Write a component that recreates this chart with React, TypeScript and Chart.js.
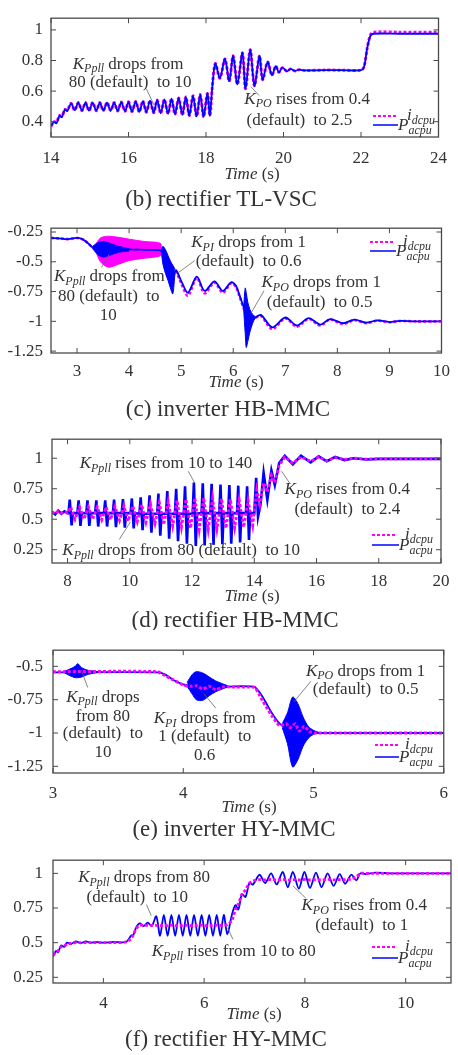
import React, { useEffect, useRef } from "react";
import { Chart, registerables } from "chart.js";

Chart.register(...registerables);

const FONT = '"Liberation Serif", "Times New Roman", Times, serif';
const INK = "#333333";
const FRAME = "#4a4a4a";
const MAGENTA = "#ff00ff";
const BLUE = "#0000ff";
Chart.defaults.font.family = FONT;

// ---------------- (b) rectifier TL-VSC ----------------
const bXTicks = [14, 16, 18, 20, 22, 24];
const bYTicks = [0.4, 0.6, 0.8, 1];
const bTime = [14.0, 14.08, 14.14, 14.22, 14.28, 14.36, 14.42,
  14.52, 14.61, 14.705, 14.8, 14.89, 14.98, 15.075, 15.17, 15.26, 15.35, 15.445, 15.54, 15.63, 15.72, 15.815, 15.91,
  16.0, 16.09, 16.185, 16.28, 16.37, 16.46, 16.555, 16.65, 16.74, 16.83, 16.925, 17.02, 17.11, 17.2, 17.295, 17.39,
  17.48, 17.57, 17.665, 17.76, 17.85, 17.94, 18.035, 18.1,
  18.16, 18.24, 18.36, 18.49, 18.6, 18.7, 18.81, 18.94, 19.02, 19.14, 19.25, 19.38, 19.46, 19.59, 19.7, 19.8, 19.88,
  19.97, 20.09, 20.18, 20.3, 20.4, 20.55, 21.0, 21.5, 22.0, 22.08, 22.16, 22.24, 22.32, 23.0, 24.0];
const bPac = [0.37, 0.4, 0.39, 0.44, 0.43, 0.48, 0.47,
  0.52, 0.475, 0.525, 0.472, 0.525, 0.472, 0.525, 0.472, 0.525, 0.472, 0.525, 0.472, 0.525, 0.47, 0.528, 0.468,
  0.53, 0.466, 0.532, 0.464, 0.535, 0.462, 0.538, 0.458, 0.542, 0.455, 0.545, 0.452, 0.55, 0.448, 0.555, 0.444,
  0.562, 0.44, 0.57, 0.435, 0.578, 0.432, 0.585, 0.44,
  0.62, 0.78, 0.685, 0.81, 0.665, 0.83, 0.645, 0.85, 0.616, 0.87, 0.635, 0.83, 0.675, 0.79, 0.704, 0.763, 0.723,
  0.753, 0.729, 0.745, 0.732, 0.74, 0.735, 0.737, 0.737, 0.737, 0.76, 0.88, 0.96, 0.975, 0.975, 0.975];
const bIdc = [0.37, 0.4, 0.395, 0.44, 0.435, 0.48, 0.475,
  0.52, 0.475, 0.525, 0.472, 0.525, 0.472, 0.525, 0.472, 0.525, 0.472, 0.525, 0.472, 0.525, 0.47, 0.528, 0.468,
  0.53, 0.466, 0.532, 0.464, 0.535, 0.462, 0.538, 0.458, 0.542, 0.455, 0.545, 0.452, 0.55, 0.448, 0.555, 0.444,
  0.562, 0.44, 0.57, 0.435, 0.578, 0.432, 0.585, 0.44,
  0.62, 0.78, 0.685, 0.81, 0.665, 0.83, 0.645, 0.85, 0.616, 0.87, 0.635, 0.83, 0.675, 0.79, 0.704, 0.763, 0.723,
  0.753, 0.729, 0.745, 0.732, 0.74, 0.735, 0.737, 0.737, 0.737, 0.76, 0.88, 0.965, 0.985, 0.985, 0.985];
const bNotes = [
  { s: "K_{Ppll} drops from", x: 15.99, y: 0.776 },
  { s: "80 (default)  to 10", x: 16.04, y: 0.655 },
  { s: "K_{PO} rises from 0.4", x: 20.61, y: 0.547 },
  { s: "(default)  to 2.5", x: 20.41, y: 0.41 },
];
const bLeaders = [[16.46, 0.616, 16.66, 0.508], [19.37, 0.571, 19.16, 0.629]];

// ---------------- (c) inverter HB-MMC ----------------
const cXTicks = [3, 4, 5, 6, 7, 8, 9, 10];
const cYTicks = [-1.25, -1, -0.75, -0.5, -0.25];
const cTime = [2.5, 2.7, 2.8, 3.0, 3.1, 3.2, 3.3, 3.4, 3.6, 3.8, 4.0, 4.3, 4.6, 4.65, 4.75, 4.85, 4.9, 5.0, 5.13,
  5.3, 5.45, 5.64, 5.8, 5.96, 6.05, 6.12, 6.2, 6.3, 6.42, 6.53, 6.75, 7.0, 7.22, 7.45, 7.67, 7.86, 8.11, 8.33,
  8.55, 8.77, 9.0, 9.2, 9.5, 10.0];
const cPac = [-0.3, -0.305, -0.31, -0.3, -0.31, -0.34, -0.38, -0.4, -0.4, -0.395, -0.395, -0.4, -0.405, -0.43,
  -0.52, -0.62, -0.57, -0.66, -0.76, -0.625, -0.745, -0.665, -0.745, -0.672, -0.7, -0.78, -0.88, -1.0, -0.97,
  -0.946, -1.05, -0.968, -1.035, -0.973, -1.027, -0.981, -1.016, -0.986, -1.011, -0.992, -1.006, -0.996, -1.0, -1.0];
const cIdc = [-0.3, -0.305, -0.31, -0.3, -0.31, -0.34, -0.38, -0.41, -0.41, -0.405, -0.4, -0.4, -0.4, -0.42,
  -0.48, -0.56, -0.58, -0.68, -0.785, -0.635, -0.765, -0.675, -0.76, -0.68, -0.71, -0.79, -0.89, -0.98, -0.97,
  -0.955, -1.065, -0.975, -1.045, -0.98, -1.035, -0.985, -1.022, -0.99, -1.015, -0.994, -1.008, -0.997, -1.0, -1.0];
const cIdcBandT = [3.35, 3.45, 3.6, 3.8, 4.0, 4.3, 4.6, 4.62];
const cIdcBandHi = [-0.36, -0.3, -0.285, -0.295, -0.31, -0.33, -0.345, -0.4];
const cIdcBandLo = [-0.4, -0.5, -0.545, -0.52, -0.49, -0.47, -0.45, -0.41];
const cPacBand1T = [3.3, 3.4, 3.5, 3.6, 3.8, 4.0];
const cPacBand1Hi = [-0.37, -0.34, -0.33, -0.34, -0.37, -0.39];
const cPacBand1Lo = [-0.39, -0.44, -0.46, -0.45, -0.42, -0.41];
const cPacBand2T = [4.62, 4.65, 4.7, 4.75, 4.8, 4.84, 4.88];
const cPacBand2Hi = [-0.4, -0.37, -0.4, -0.45, -0.5, -0.53, -0.56];
const cPacBand2Lo = [-0.42, -0.52, -0.6, -0.66, -0.73, -0.77, -0.6];
const cPacBand3T = [6.2, 6.23, 6.25, 6.28, 6.32, 6.37, 6.42];
const cPacBand3Hi = [-0.88, -0.72, -0.76, -0.84, -0.9, -0.94, -0.96];
const cPacBand3Lo = [-0.9, -1.1, -1.22, -1.17, -1.09, -1.02, -0.97];
const cNotes = [
  { s: "K_{Ppll} drops from", x: 3.62, y: -0.623 },
  { s: "80 (default)  to", x: 3.61, y: -0.79 },
  { s: "10", x: 3.6, y: -0.952 },
  { s: "K_{PI} drops from 1", x: 6.295, y: -0.341 },
  { s: "(default)  to 0.6", x: 6.295, y: -0.502 },
  { s: "K_{PO} drops from 1", x: 7.69, y: -0.677 },
  { s: "(default)  to 0.5", x: 7.66, y: -0.839 },
];
const cLeaders = [[3.47, -0.548, 3.62, -0.435], [5.26, -0.49, 4.95, -0.59], [6.59, -0.744, 6.34, -0.933]];

// ---------------- (d) rectifier HB-MMC ----------------
const dXTicks = [8, 10, 12, 14, 16, 18, 20];
const dYTicks = [0.25, 0.5, 0.75, 1];
const dPacTime = [7.5, 7.6, 7.7, 7.8, 7.9, 8.0,
  8.03, 8.07, 8.13, 8.17, 8.315, 8.355, 8.415, 8.455, 8.6, 8.64, 8.7, 8.74, 8.885, 8.925, 8.985, 9.025,
  9.17, 9.21, 9.27, 9.31, 9.455, 9.495, 9.555, 9.595, 9.74, 9.78, 9.84, 9.88, 10.025, 10.065, 10.125, 10.165,
  10.31, 10.35, 10.41, 10.45, 10.595, 10.635, 10.695, 10.735, 10.88, 10.92, 10.98, 11.02, 11.165, 11.205, 11.265, 11.305,
  11.45, 11.49, 11.55, 11.59, 11.735, 11.775, 11.835, 11.875, 12.02, 12.06, 12.12, 12.16, 12.305, 12.345, 12.405, 12.445,
  12.59, 12.63, 12.69, 12.73, 12.875, 12.915, 12.975, 13.015, 13.16, 13.2, 13.26, 13.3, 13.445, 13.485, 13.545, 13.585,
  13.73, 13.77, 13.83, 13.87,
  14.0, 14.06, 14.12, 14.2, 14.3, 14.42, 14.55, 14.66, 14.8, 14.98, 15.24, 15.5, 15.81, 16.07, 16.33, 16.6, 16.9,
  17.2, 17.6, 18.0, 20.0];
const dPac = [0.56, 0.54, 0.57, 0.545, 0.565, 0.55,
  0.55, 0.66, 0.45, 0.55, 0.55, 0.655, 0.445, 0.55, 0.55, 0.655, 0.445, 0.55, 0.55, 0.655, 0.44, 0.55,
  0.55, 0.655, 0.44, 0.55, 0.55, 0.66, 0.435, 0.55, 0.55, 0.665, 0.43, 0.55, 0.55, 0.67, 0.425, 0.55,
  0.545, 0.68, 0.41, 0.545, 0.545, 0.695, 0.39, 0.545, 0.545, 0.71, 0.365, 0.545, 0.545, 0.73, 0.34, 0.545,
  0.545, 0.75, 0.32, 0.545, 0.545, 0.77, 0.3, 0.545, 0.545, 0.8, 0.28, 0.545, 0.55, 0.795, 0.285, 0.55,
  0.55, 0.79, 0.29, 0.55, 0.55, 0.785, 0.295, 0.55, 0.55, 0.78, 0.3, 0.55, 0.55, 0.775, 0.31, 0.55,
  0.55, 0.77, 0.33, 0.55,
  0.55, 0.84, 0.52, 0.62, 0.88, 0.66, 0.9, 0.78, 0.96, 1.02, 0.95, 1.02, 0.966, 1.015, 0.975, 1.01, 0.985,
  1.0, 0.99, 0.995, 0.995];
const dIdcTime = [7.5, 7.6, 7.7, 7.8, 7.9, 8.0,
  8.1, 8.24, 8.385, 8.53, 8.67, 8.81, 8.955, 9.1, 9.24, 9.38, 9.525, 9.67, 9.81, 9.95, 10.095, 10.24, 10.38, 10.52,
  10.665, 10.81, 10.95, 11.09, 11.235, 11.38, 11.52, 11.66, 11.805, 11.95, 12.09, 12.23, 12.375, 12.52, 12.66,
  12.8, 12.945, 13.09, 13.23, 13.37, 13.515, 13.66, 13.8, 13.95,
  14.08, 14.18, 14.3, 14.42, 14.55, 14.66, 14.8, 14.98, 15.24, 15.5, 15.81, 16.07, 16.33, 16.6, 16.9, 17.2, 17.6,
  18.0, 20.0];
const dIdc = [0.56, 0.545, 0.565, 0.55, 0.56, 0.55,
  0.6, 0.5, 0.6, 0.5, 0.6, 0.5, 0.6, 0.495, 0.6, 0.495, 0.605, 0.49, 0.61, 0.485, 0.61, 0.48, 0.62, 0.475, 0.625,
  0.465, 0.635, 0.455, 0.645, 0.445, 0.655, 0.435, 0.665, 0.425, 0.675, 0.415, 0.675, 0.415, 0.67, 0.42, 0.67,
  0.425, 0.665, 0.43, 0.66, 0.435, 0.655, 0.45,
  0.74, 0.62, 0.8, 0.72, 0.86, 0.8, 0.94, 1.01, 0.96, 1.01, 0.975, 1.01, 0.98, 1.005, 0.99, 1.0, 0.993, 0.995, 0.995];
const dNotes = [
  { s: "K_{Ppll} rises from 10 to 140", x: 11.16, y: 0.958 },
  { s: "K_{Ppll} drops from 80 (default)  to 10", x: 11.65, y: 0.242 },
  { s: "K_{PO} rises from 0.4", x: 16.99, y: 0.742 },
  { s: "(default)  to 2.4", x: 16.99, y: 0.576 },
];
const dLeaders = [[11.88, 0.893, 12.09, 0.795], [9.66, 0.334, 10.02, 0.477], [15.14, 0.795, 14.88, 0.893]];

// ---------------- (e) inverter HY-MMC ----------------
const eXTicks = [3, 4, 5, 6];
const eYTicks = [-1.25, -1, -0.75, -0.5];
const eTime = [3.0, 3.8, 3.86, 3.92, 4.0, 4.05, 4.1, 4.15, 4.2, 4.25, 4.3, 4.4, 4.5, 4.55, 4.61, 4.68, 4.74, 4.79,
  4.82, 4.86, 4.89, 4.93, 4.97, 5.02, 6.0];
const eIdc = [-0.54, -0.54, -0.57, -0.6, -0.64, -0.65, -0.645, -0.67, -0.65, -0.675, -0.655, -0.655, -0.655, -0.66,
  -0.76, -0.87, -0.945, -0.93, -0.96, -0.93, -0.985, -0.95, -0.99, -1.0, -1.0];
const ePac = [-0.545, -0.545, -0.56, -0.6, -0.635, -0.645, -0.65, -0.655, -0.655, -0.66, -0.655, -0.65, -0.65,
  -0.655, -0.73, -0.85, -0.93, -0.96, -0.97, -0.98, -0.99, -0.995, -1.0, -1.0, -1.0];
const eBand1T = [3.08, 3.13, 3.17, 3.19, 3.22, 3.27, 3.35];
const eBand1Hi = [-0.54, -0.52, -0.5, -0.48, -0.51, -0.53, -0.54];
const eBand1Lo = [-0.545, -0.57, -0.585, -0.585, -0.58, -0.56, -0.545];
const eBand2T = [4.03, 4.07, 4.1, 4.15, 4.2, 4.25, 4.3, 4.34];
const eBand2Hi = [-0.62, -0.56, -0.54, -0.55, -0.58, -0.61, -0.63, -0.645];
const eBand2Lo = [-0.65, -0.71, -0.75, -0.755, -0.72, -0.69, -0.67, -0.655];
const eBand3T = [4.76, 4.8, 4.84, 4.88, 4.92, 4.96, 5.0, 5.04];
const eBand3Hi = [-0.93, -0.85, -0.73, -0.78, -0.88, -0.95, -0.98, -0.995];
const eBand3Lo = [-0.96, -1.08, -1.255, -1.2, -1.1, -1.04, -1.01, -1.0];
const eNotes = [
  { s: "K_{Ppll} drops", x: 3.383, y: -0.731 },
  { s: "from 80", x: 3.383, y: -0.874 },
  { s: "(default)  to", x: 3.383, y: -1.005 },
  { s: "10", x: 3.383, y: -1.148 },
  { s: "K_{PI} drops from", x: 4.165, y: -0.893 },
  { s: "1 (default)  to", x: 4.165, y: -1.029 },
  { s: "0.6", x: 4.165, y: -1.171 },
  { s: "K_{PO} drops from 1", x: 5.4, y: -0.536 },
  { s: "(default)  to 0.5", x: 5.4, y: -0.671 },
];
const eLeaders = [[3.267, -0.659, 3.217, -0.529], [4.25, -0.814, 4.16, -0.707], [4.98, -0.612, 4.85, -0.766]];

// ---------------- (f) rectifier HY-MMC ----------------
const fXTicks = [4, 6, 8, 10];
const fYTicks = [0.25, 0.5, 0.75, 1];
const fTime = [3.0, 3.06, 3.1, 3.16, 3.22, 3.28, 3.36, 3.45, 3.55, 3.65, 3.75, 3.85, 4.0, 4.2, 4.45, 4.55, 4.6,
  4.65, 4.72, 4.8, 4.88, 4.96,
  5.05, 5.125, 5.2, 5.275, 5.35, 5.425, 5.5, 5.575, 5.65, 5.725, 5.8, 5.875, 5.95, 6.025, 6.1, 6.175, 6.25, 6.32,
  6.39, 6.46,
  6.55, 6.62, 6.68, 6.75, 6.82, 6.9, 6.97,
  7.1, 7.21, 7.33, 7.44, 7.56, 7.66, 7.76, 7.88, 7.99, 8.1, 8.22, 8.33, 8.45, 8.57, 8.69, 8.8, 8.92, 9.02,
  9.1, 9.2, 9.4, 9.7, 10.9];
const fPac = [0.4, 0.44, 0.43, 0.48, 0.47, 0.5, 0.49, 0.51, 0.495, 0.51, 0.5, 0.505, 0.5, 0.505, 0.505, 0.55, 0.56,
  0.61, 0.64, 0.62, 0.645, 0.62,
  0.69, 0.55, 0.7, 0.55, 0.7, 0.55, 0.7, 0.55, 0.7, 0.55, 0.7, 0.55, 0.7, 0.55, 0.7, 0.55, 0.7, 0.55, 0.7, 0.56,
  0.7, 0.77, 0.74, 0.85, 0.83, 0.93, 0.92,
  0.99, 0.93, 1.0, 0.92, 1.01, 0.9, 1.01, 0.89, 1.01, 0.895, 1.005, 0.9, 1.0, 0.91, 0.995, 0.925, 0.99, 0.95,
  1.0, 0.995, 1.005, 1.0, 1.0];
const fIdc = [0.41, 0.43, 0.44, 0.47, 0.475, 0.49, 0.495, 0.5, 0.5, 0.5, 0.5, 0.5, 0.5, 0.5, 0.505, 0.53, 0.56, 0.6,
  0.625, 0.625, 0.625, 0.625,
  0.625, 0.622, 0.626, 0.623, 0.626, 0.622, 0.625, 0.623, 0.626, 0.622, 0.625, 0.623, 0.626, 0.622, 0.625, 0.623,
  0.626, 0.624, 0.625, 0.63,
  0.66, 0.74, 0.78, 0.85, 0.88, 0.93, 0.945,
  0.955, 0.952, 0.956, 0.952, 0.956, 0.951, 0.955, 0.952, 0.956, 0.952, 0.955, 0.952, 0.956, 0.953, 0.955, 0.955,
  0.96, 0.975,
  1.0, 1.0, 1.0, 1.0, 1.0];
const fNotes = [
  { s: "K_{Ppll} drops from 80", x: 4.808, y: 0.968 },
  { s: "(default)  to 10", x: 4.673, y: 0.825 },
  { s: "K_{Ppll} rises from 10 to 80", x: 6.588, y: 0.434 },
  { s: "K_{PO} rises from 0.4", x: 9.178, y: 0.768 },
  { s: "(default)  to 1", x: 9.129, y: 0.627 },
];
const fLeaders = [[4.855, 0.775, 4.95, 0.695], [6.57, 0.525, 6.47, 0.605], [8.02, 0.82, 7.76, 0.911]];

// ---------------- panel layout ----------------
type Line = { t: number[]; v: number[]; color: string; width: number; dash?: number[]; tension: number; order: number };
type Band = { t: number[]; hi: number[]; lo: number[]; color: string; order: number };
type Panel = {
  key: string; top: number; height: number;
  plot: { left: number; right: number; top: number; bottom: number };
  xr: [number, number]; yr: [number, number];
  xTicks: number[]; yTicks: number[]; xPad: number; yPad: number;
  lines: Line[]; bands: Band[];
  notes: { s: string; x: number; y: number }[]; leaders: number[][];
  legend: { iY: number; pY: number; sx1: number; sx2: number; iX: number; pX: number };
  timeX: number; timeY: number; caption: string; capX: number; capY: number;
};

const panels: Panel[] = [
  {
    key: "b", top: 0, height: 210, plot: { left: 51, right: 447, top: 5, bottom: 137 },
    xr: [14, 24], yr: [0.3, 1.0765], xTicks: bXTicks, yTicks: bYTicks, xPad: 11, yPad: 8,
    lines: [
      { t: bTime, v: bPac, color: BLUE, width: 1.8, tension: 0.3, order: 0 },
      { t: bTime, v: bIdc, color: MAGENTA, width: 3, dash: [3, 2], tension: 0.3, order: 1 },
    ],
    bands: [], notes: bNotes, leaders: bLeaders,
    legend: { iY: 116, pY: 125, sx1: 373, sx2: 397, iX: 407, pX: 398 },
    timeX: 252, timeY: 175, caption: "(b) rectifier TL-VSC", capX: 221, capY: 200,
  },
  {
    key: "c", top: 210, height: 210, plot: { left: 51, right: 447, top: 223, bottom: 353 },
    xr: [2.5, 10], yr: [-1.266, -0.218], xTicks: cXTicks, yTicks: cYTicks, xPad: 8, yPad: 8,
    lines: [
      { t: cTime, v: cPac, color: BLUE, width: 1.8, tension: 0.3, order: 0 },
      { t: cTime, v: cIdc, color: MAGENTA, width: 2.6, dash: [3, 2], tension: 0.3, order: 3 },
    ],
    bands: [
      { t: cPacBand1T, hi: cPacBand1Hi, lo: cPacBand1Lo, color: BLUE, order: 1 },
      { t: cPacBand2T, hi: cPacBand2Hi, lo: cPacBand2Lo, color: BLUE, order: 1 },
      { t: cPacBand3T, hi: cPacBand3Hi, lo: cPacBand3Lo, color: BLUE, order: 1 },
      { t: cIdcBandT, hi: cIdcBandHi, lo: cIdcBandLo, color: MAGENTA, order: 2 },
    ],
    notes: cNotes, leaders: cLeaders,
    legend: { iY: 242, pY: 251, sx1: 370, sx2: 394, iX: 403, pX: 396 },
    timeX: 236, timeY: 383, caption: "(c) inverter HB-MMC", capX: 228, capY: 410,
  },
  {
    key: "d", top: 420, height: 210, plot: { left: 52, right: 451, top: 433, bottom: 563 },
    xr: [7.5, 20], yr: [0.141, 1.156], xTicks: dXTicks, yTicks: dYTicks, xPad: 8.5, yPad: 9,
    lines: [
      { t: dIdcTime, v: dIdc, color: MAGENTA, width: 2.8, dash: [3, 2], tension: 0, order: 0 },
      { t: dPacTime, v: dPac, color: BLUE, width: 2.6, tension: 0, order: 1 },
    ],
    bands: [], notes: dNotes, leaders: dLeaders,
    legend: { iY: 535, pY: 545, sx1: 372, sx2: 396, iX: 405, pX: 399 },
    timeX: 252, timeY: 597, caption: "(d) rectifier HB-MMC", capX: 235, capY: 621,
  },
  {
    key: "e", top: 630, height: 210, plot: { left: 53, right: 451, top: 644, bottom: 773 },
    xr: [3, 6], yr: [-1.3, -0.379], xTicks: eXTicks, yTicks: eYTicks, xPad: 10, yPad: 10,
    lines: [
      { t: eTime, v: eIdc, color: MAGENTA, width: 3, dash: [3, 2], tension: 0.2, order: 0 },
      { t: eTime, v: ePac, color: BLUE, width: 1.8, tension: 0.2, order: 2 },
    ],
    bands: [
      { t: eBand1T, hi: eBand1Hi, lo: eBand1Lo, color: BLUE, order: 1 },
      { t: eBand2T, hi: eBand2Hi, lo: eBand2Lo, color: BLUE, order: 1 },
      { t: eBand3T, hi: eBand3Hi, lo: eBand3Lo, color: BLUE, order: 1 },
    ],
    notes: eNotes, leaders: eLeaders,
    legend: { iY: 745, pY: 757, sx1: 375, sx2: 398, iX: 405, pX: 399 },
    timeX: 249, timeY: 808, caption: "(e) inverter HY-MMC", capX: 234, capY: 830,
  },
  {
    key: "f", top: 840, height: 215, plot: { left: 53, right: 451, top: 853, bottom: 983 },
    xr: [3, 10.9], yr: [0.209, 1.095], xTicks: fXTicks, yTicks: fYTicks, xPad: 10, yPad: 10,
    lines: [
      { t: fTime, v: fIdc, color: MAGENTA, width: 2.8, dash: [3, 2], tension: 0.3, order: 0 },
      { t: fTime, v: fPac, color: BLUE, width: 1.8, tension: 0.3, order: 1 },
    ],
    bands: [], notes: fNotes, leaders: fLeaders,
    legend: { iY: 947, pY: 958, sx1: 372, sx2: 396, iX: 405, pX: 398 },
    timeX: 254, timeY: 1015, caption: "(f) rectifier HY-MMC", capX: 226, capY: 1040,
  },
];

// ---------------- rich text helpers ----------------
type Part = { t: string; italic: boolean; sub: boolean };
function richParts(s: string): Part[] {
  const parts: Part[] = [];
  const re = /([A-Za-z])_\{([^}]*)\}/g;
  let last = 0;
  let m: RegExpExecArray | null;
  while ((m = re.exec(s))) {
    if (m.index > last) parts.push({ t: s.slice(last, m.index), italic: false, sub: false });
    parts.push({ t: m[1], italic: true, sub: false });
    parts.push({ t: m[2], italic: true, sub: true });
    last = re.lastIndex;
  }
  if (last < s.length) parts.push({ t: s.slice(last), italic: false, sub: false });
  return parts;
}
function drawRich(ctx: CanvasRenderingContext2D, s: string, x: number, y: number, size: number, align: "left" | "center") {
  const parts = richParts(s);
  const sub = Math.round(size * 0.7);
  const fontOf = (p: Part) => `${p.italic ? "italic " : ""}${p.sub ? sub : size}px ${FONT}`;
  let w = 0;
  const widths = parts.map((p) => {
    ctx.font = fontOf(p);
    const ww = ctx.measureText(p.t).width;
    w += ww;
    return ww;
  });
  let cx = align === "center" ? x - w / 2 : x;
  ctx.textAlign = "left";
  ctx.textBaseline = "middle";
  parts.forEach((p, i) => {
    ctx.font = fontOf(p);
    ctx.fillText(p.t, cx, p.sub ? y + size * 0.3 : y);
    cx += widths[i];
  });
}

function buildChart(canvas: HTMLCanvasElement, p: Panel) {
  const datasets: any[] = [];
  for (const l of p.lines) {
    datasets.push({
      data: l.t.map((x, i) => ({ x, y: l.v[i] })),
      borderColor: l.color, backgroundColor: l.color, borderWidth: l.width, borderDash: l.dash || [],
      pointRadius: 0, fill: false, tension: l.tension, order: l.order,
    });
  }
  for (const b of p.bands) {
    datasets.push({
      data: b.t.map((x, i) => ({ x, y: b.hi[i] })),
      borderColor: b.color, backgroundColor: b.color, borderWidth: 1, pointRadius: 0,
      fill: "+1", tension: 0.3, order: b.order,
    });
    datasets.push({
      data: b.t.map((x, i) => ({ x, y: b.lo[i] })),
      borderColor: b.color, backgroundColor: b.color, borderWidth: 1, pointRadius: 0,
      fill: false, tension: 0.3, order: b.order,
    });
  }
  const off = p.top;
  const decor = {
    id: "decor",
    afterDatasetsDraw(chart: any) {
      const ctx: CanvasRenderingContext2D = chart.ctx;
      const a = chart.chartArea;
      const xs = chart.scales.x;
      const ys = chart.scales.y;
      ctx.save();
      ctx.setLineDash([]);
      ctx.strokeStyle = FRAME;
      ctx.lineWidth = 1.3;
      ctx.strokeRect(a.left, a.top, a.right - a.left, a.bottom - a.top);
      ctx.lineWidth = 1;
      ctx.beginPath();
      for (const v of p.xTicks) {
        const x = xs.getPixelForValue(v);
        ctx.moveTo(x, a.bottom); ctx.lineTo(x, a.bottom - 5);
        ctx.moveTo(x, a.top); ctx.lineTo(x, a.top + 5);
      }
      for (const v of p.yTicks) {
        const y = ys.getPixelForValue(v);
        ctx.moveTo(a.left, y); ctx.lineTo(a.left + 5, y);
        ctx.moveTo(a.right, y); ctx.lineTo(a.right - 5, y);
      }
      ctx.stroke();
      // leader lines
      ctx.strokeStyle = "#666666";
      ctx.lineWidth = 0.8;
      ctx.beginPath();
      for (const [x1, y1, x2, y2] of p.leaders) {
        ctx.moveTo(xs.getPixelForValue(x1), ys.getPixelForValue(y1));
        ctx.lineTo(xs.getPixelForValue(x2), ys.getPixelForValue(y2));
      }
      ctx.stroke();
      // annotations
      ctx.fillStyle = INK;
      for (const n of p.notes) drawRich(ctx, n.s, xs.getPixelForValue(n.x), ys.getPixelForValue(n.y), 17, "center");
      // legend
      const L = p.legend;
      ctx.strokeStyle = MAGENTA;
      ctx.lineWidth = 2;
      ctx.setLineDash([3, 2]);
      ctx.beginPath(); ctx.moveTo(L.sx1, L.iY - off); ctx.lineTo(L.sx2, L.iY - off); ctx.stroke();
      ctx.setLineDash([]);
      ctx.strokeStyle = BLUE;
      ctx.lineWidth = 1.5;
      ctx.beginPath(); ctx.moveTo(L.sx1, L.pY - off); ctx.lineTo(L.pX, L.pY - off); ctx.stroke();
      ctx.fillStyle = INK;
      drawRich(ctx, "i_{dcpu}", L.iX, L.iY - off, 17, "left");
      drawRich(ctx, "P_{acpu}", L.pX, L.pY - off + 1, 17, "left");
      // axis title
      ctx.textBaseline = "middle";
      ctx.textAlign = "left";
      ctx.font = `italic 17px ${FONT}`;
      const w1 = ctx.measureText("Time").width;
      ctx.font = `17px ${FONT}`;
      const w2 = ctx.measureText(" (s)").width;
      const tx = p.timeX - (w1 + w2) / 2;
      ctx.font = `italic 17px ${FONT}`;
      ctx.fillText("Time", tx, p.timeY - off);
      ctx.font = `17px ${FONT}`;
      ctx.fillText(" (s)", tx + w1, p.timeY - off);
      // caption
      ctx.font = `23px ${FONT}`;
      ctx.textAlign = "center";
      ctx.fillText(p.caption, p.capX, p.capY - off);
      ctx.restore();
    },
  };
  const tickFont = { family: FONT, size: 17 };
  return new Chart(canvas, {
    type: "line",
    data: { datasets },
    plugins: [decor],
    options: {
      responsive: false,
      animation: false,
      devicePixelRatio: 1,
      events: [],
      layout: {
        autoPadding: false,
        padding: { left: 0, right: 458 - p.plot.right, top: p.plot.top - p.top, bottom: 0 },
      },
      plugins: { legend: { display: false }, tooltip: { enabled: false }, title: { display: false } },
      scales: {
        x: {
          type: "linear", min: p.xr[0], max: p.xr[1],
          grid: { display: false, drawTicks: false }, border: { display: false },
          ticks: { font: tickFont, color: INK, padding: p.xPad, maxRotation: 0, autoSkip: false, callback: (v: any) => String(v) },
          afterBuildTicks: (s: any) => { s.ticks = p.xTicks.map((v) => ({ value: v })); },
          afterFit: (s: any) => { s.height = p.height - (p.plot.bottom - p.top); },
        },
        y: {
          type: "linear", min: p.yr[0], max: p.yr[1],
          grid: { display: false, drawTicks: false }, border: { display: false },
          ticks: { font: tickFont, color: INK, padding: p.yPad, autoSkip: false, callback: (v: any) => String(v) },
          afterBuildTicks: (s: any) => { s.ticks = p.yTicks.map((v) => ({ value: v })); },
          afterFit: (s: any) => { s.width = p.plot.left; },
        },
      },
    } as any,
  });
}

function PanelChart({ p }: { p: Panel }) {
  const ref = useRef<HTMLCanvasElement>(null);
  useEffect(() => {
    if (!ref.current) return;
    const chart = buildChart(ref.current, p);
    return () => chart.destroy();
  }, [p]);
  return (
    <canvas
      ref={ref}
      width={458}
      height={p.height}
      style={{ position: "absolute", left: 0, top: p.top, width: 458, height: p.height }}
    />
  );
}

export default function App() {
  return (
    <div style={{ position: "absolute", left: 0, top: 0, width: 458, height: 1055, background: "#ffffff" }}>
      {panels.map((p) => (
        <PanelChart key={p.key} p={p} />
      ))}
    </div>
  );
}
